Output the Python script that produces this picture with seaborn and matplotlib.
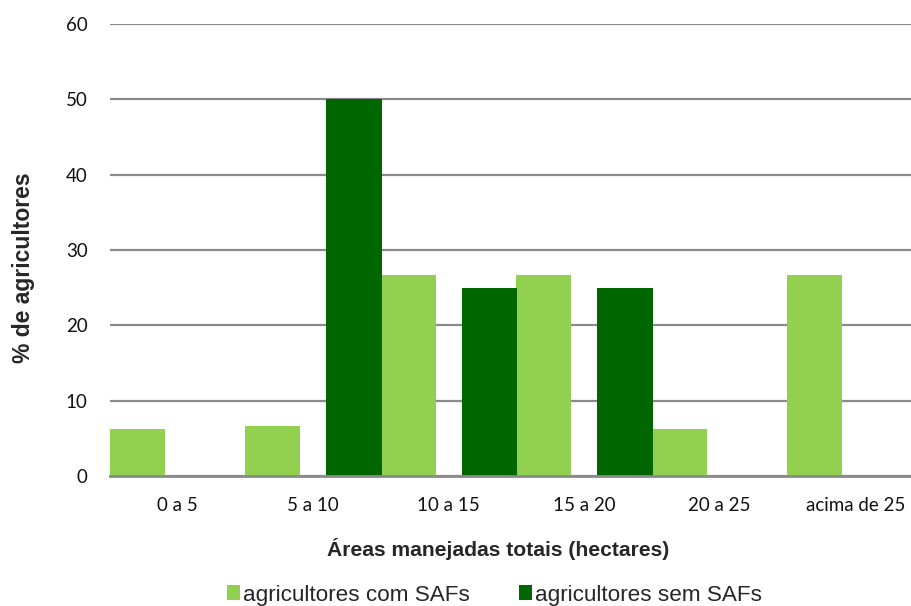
import matplotlib
matplotlib.use("Agg")
import matplotlib.pyplot as plt
import seaborn as sns
import pandas as pd

# Farm size classes (hectares) and share of farmers in each class (%)
categories = ["0 a 5", "5 a 10", "10 a 15", "15 a 20", "20 a 25", "acima de 25"]
com_safs = [6.25, 6.6, 26.7, 26.7, 6.25, 26.7]
sem_safs = [0, 50, 25, 25, 0, 0]
series_names = ["agricultores com SAFs", "agricultores sem SAFs"]
y_ticks = [0, 10, 20, 30, 40, 50, 60]

colors = {series_names[0]: "#92D050", series_names[1]: "#006600"}

df = pd.DataFrame({
    "faixa": categories * 2,
    "pct": com_safs + sem_safs,
    "grupo": [series_names[0]] * len(categories) + [series_names[1]] * len(categories),
})

sns.set_style("white")
plt.rcParams["font.family"] = ["Lato", "DejaVu Sans"]

W, H = 911, 606
fig = plt.figure(figsize=(W / 100, H / 100), dpi=100)
# plot area in pixels: left 110, right 923 (runs past the figure edge), y0 at 476, y60 at 24
ax = fig.add_axes([110 / W, (H - 476) / H, 813 / W, 452 / H])

sns.barplot(data=df, x="faixa", y="pct", hue="grupo", order=categories,
            hue_order=series_names, palette=colors, width=1.2, dodge=True,
            saturation=1, ax=ax, legend=True)

# narrow bars keep their dodged centres
bar_w = 0.408
for p in ax.patches:
    c = p.get_x() + p.get_width() / 2
    p.set_width(bar_w)
    p.set_x(c - bar_w / 2)
    p.set_edgecolor("none")
    p.set_linewidth(0)

ax.set_xlim(-0.5, len(categories) - 0.5)
ax.set_ylim(0, 60)
ax.set_yticks(y_ticks)
ax.yaxis.grid(True, color="#8a8a8a", linewidth=1.6)
ax.set_axisbelow(True)
for s in ["left", "right", "top"]:
    ax.spines[s].set_visible(False)
ax.spines["bottom"].set_color("#8a8a8a")
ax.spines["bottom"].set_linewidth(2)
ax.tick_params(axis="y", length=0, pad=16, labelsize=13.5, labelcolor="#111111")
ax.tick_params(axis="x", length=0, pad=15, labelsize=13.5, labelcolor="#111111")
ax.set_xlabel("")
ax.set_ylabel("")

handles, labels = ax.get_legend_handles_labels()
ax.get_legend().remove()
fig.legend(handles, labels, loc="center", bbox_to_anchor=(494.5 / W, (H - 595) / H),
           ncol=2, frameon=False, prop={"family": "Liberation Sans", "size": 16.2},
           handlelength=0.6, handleheight=0.6, handletextpad=0.13, columnspacing=2.15,
           borderaxespad=0, borderpad=0)

fig.text(498 / W, (H - 549) / H, "Áreas manejadas totais (hectares)", ha="center", va="center",
         fontsize=15.2, fontweight="bold", family="Liberation Sans")
fig.text(24 / W, (H - 268) / H, "% de agricultores", ha="center", va="center", rotation=90,
         fontsize=16.5, fontweight="bold", family="Liberation Sans")

fig.savefig("out.png", dpi=100)
